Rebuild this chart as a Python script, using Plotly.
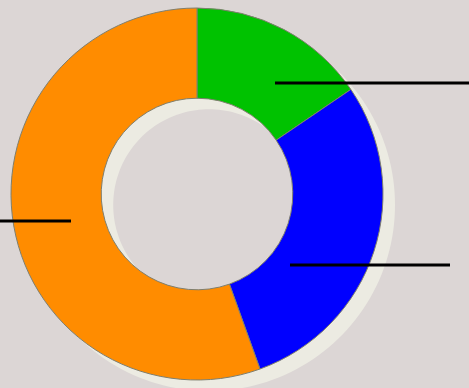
import numpy as np
import plotly.graph_objects as go

# Slice data (clockwise from 12 o'clock)
labels = ["Green", "Blue", "Orange"]
values = [15.5, 29.0, 55.5]
colors = ["#00c200", "#0000ff", "#ff8c00"]

W, H = 469, 388
CX, CY, R = 197, 194, 186          # donut centre and outer radius (px)
SHADOW_DX, SHADOW_DY = 12, 11       # drop-shadow offset (px)
HOLE = 0.515


def domain(cx, cy, r):
    """Paper-coordinate domain for a pie of radius r centred at (cx, cy) px."""
    return dict(
        x=[(cx - r) / W, (cx + r) / W],
        y=[(H - cy - r) / H, (H - cy + r) / H],
    )


def circle_path(cx, cy, r, n=180):
    """Closed SVG sub-path of a circle, in paper coordinates."""
    t = np.linspace(0, 2 * np.pi, n, endpoint=False)
    xs = (cx + r * np.cos(t)) / W
    ys = 1 - (cy + r * np.sin(t)) / H
    pts = [f"{x:.5f},{y:.5f}" for x, y in zip(xs, ys)]
    return "M" + " L".join(pts) + " Z"


fig = go.Figure()

# Main donut
fig.add_trace(go.Pie(
    labels=labels,
    values=values,
    hole=HOLE,
    direction="clockwise",
    rotation=0,
    sort=False,
    marker=dict(colors=colors, line=dict(color="#7f7f6e", width=1)),
    textinfo="none",
    hoverinfo="label+percent",
    showlegend=False,
    domain=domain(CX, CY, R),
))

# Soft drop-shadow ring beneath the donut
sx, sy = CX + SHADOW_DX, CY + SHADOW_DY
shadow = dict(
    type="path", xref="paper", yref="paper", layer="below",
    path=circle_path(sx, sy, R) + " " + circle_path(sx, sy, R * HOLE),
    fillcolor="#ecebe2", fillrule="evenodd", line=dict(width=0),
)

# Leader lines (pixel positions: y, x_start, x_end)
leaders = [(83, 275, 469), (265, 290, 450), (221, 0, 71)]
shapes = [shadow] + [
    dict(type="line", xref="paper", yref="paper",
         x0=x0 / W, x1=x1 / W, y0=1 - y / H, y1=1 - y / H,
         line=dict(color="#000000", width=3))
    for y, x0, x1 in leaders
]

fig.update_layout(
    width=W,
    height=H,
    margin=dict(l=0, r=0, t=0, b=0),
    paper_bgcolor="#dcd6d5",
    plot_bgcolor="#dcd6d5",
    shapes=shapes,
    showlegend=False,
)

fig.write_html("out.html")
